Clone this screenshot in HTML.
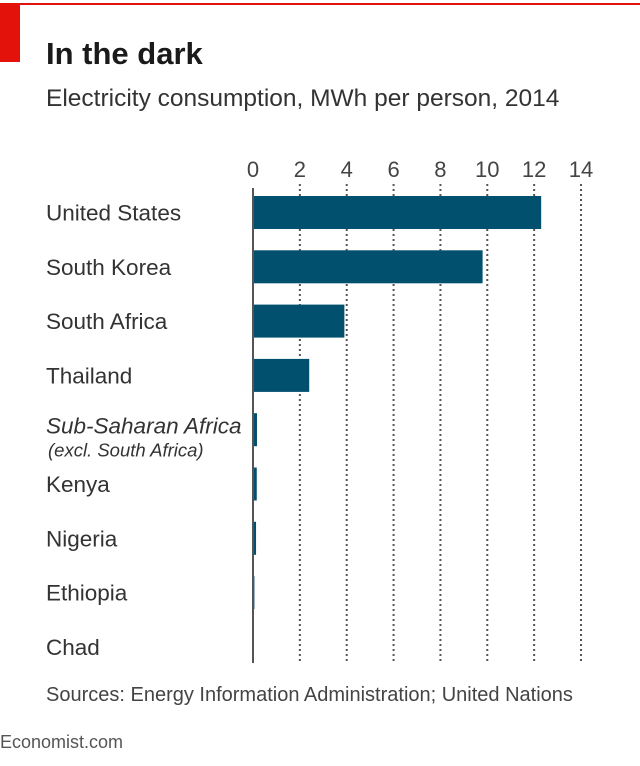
<!DOCTYPE html>
<html><head><meta charset="utf-8"><style>
body{margin:0;background:#fff;width:640px;height:761px;overflow:hidden;font-family:"Liberation Sans",sans-serif;color:#333}
</style></head><body>
<svg width="640" height="761" id="svg">
<rect x="0" y="3" width="640" height="2" fill="#e3120b"/>
<rect x="0" y="5" width="20" height="57" fill="#e3120b"/>
<text x="46" y="64" font-size="31" font-weight="bold" fill="#1a1a1a">In the dark</text>
<text x="46" y="106" font-size="24.5" fill="#333">Electricity consumption, MWh per person, 2014</text>
<g id="grid"></g><g id="bars"></g><g id="labels"></g>
<text x="46" y="701" font-size="20" fill="#444">Sources: Energy Information Administration; United Nations</text>
<text x="0" y="748" font-size="18" fill="#555">Economist.com</text>
</svg>
<script>
const categories=["United States","South Korea","South Africa","Thailand","Sub-Saharan Africa","Kenya","Nigeria","Ethiopia","Chad"];
const values=[12.3,9.8,3.9,2.4,0.17,0.16,0.13,0.06,0.01];
const ticks=[0,2,4,6,8,10,12,14];
const NS="http://www.w3.org/2000/svg";
const x0=253,x1=581,vmax=14;
const xs=v=>x0+(x1-x0)*v/vmax;
const rowY=i=>196+i*54.3;
const bh=33;
const svg=document.getElementById('svg');
const g=document.getElementById('grid'),b=document.getElementById('bars'),l=document.getElementById('labels');
function mk(tag,a,p){const e=document.createElementNS(NS,tag);for(const k in a)e.setAttribute(k,a[k]);p.appendChild(e);return e;}
ticks.forEach(t=>{
  const tx=mk('text',{x:xs(t),y:177,'font-size':22,'text-anchor':'middle',fill:'#444'},g);
  tx.textContent=t;
  
  
  if(t>0){const ln=mk('line',{x1:xs(t),x2:xs(t),y1:184,y2:662,stroke:'#555','stroke-width':2,'stroke-dasharray':'2 3'},g);
  
  }
});
categories.forEach((c,i)=>{
  const r=mk('rect',{x:x0,y:rowY(i),width:Math.max(0,xs(values[i])-x0),height:bh,fill:'#00506e'},b);
  
  
  const cy=rowY(i)+bh/2+8;
  if(c==="Sub-Saharan Africa"){
    const t=mk('text',{x:46,y:cy-4,'font-size':22.5,'font-style':'italic',fill:'#333'},l);t.textContent=c;
    
    
    const t2=mk('text',{x:48,y:cy+19,'font-size':18.5,'font-style':'italic',fill:'#333'},l);t2.textContent="(excl. South Africa)";
    
    
  }else{
    const t=mk('text',{x:46,y:cy,'font-size':22.5,fill:'#333'},l);t.textContent=c;
    
    
  }
});
const ax=mk('line',{x1:x0,x2:x0,y1:188,y2:663,stroke:'#555','stroke-width':2},svg);


</script>
</body></html>
